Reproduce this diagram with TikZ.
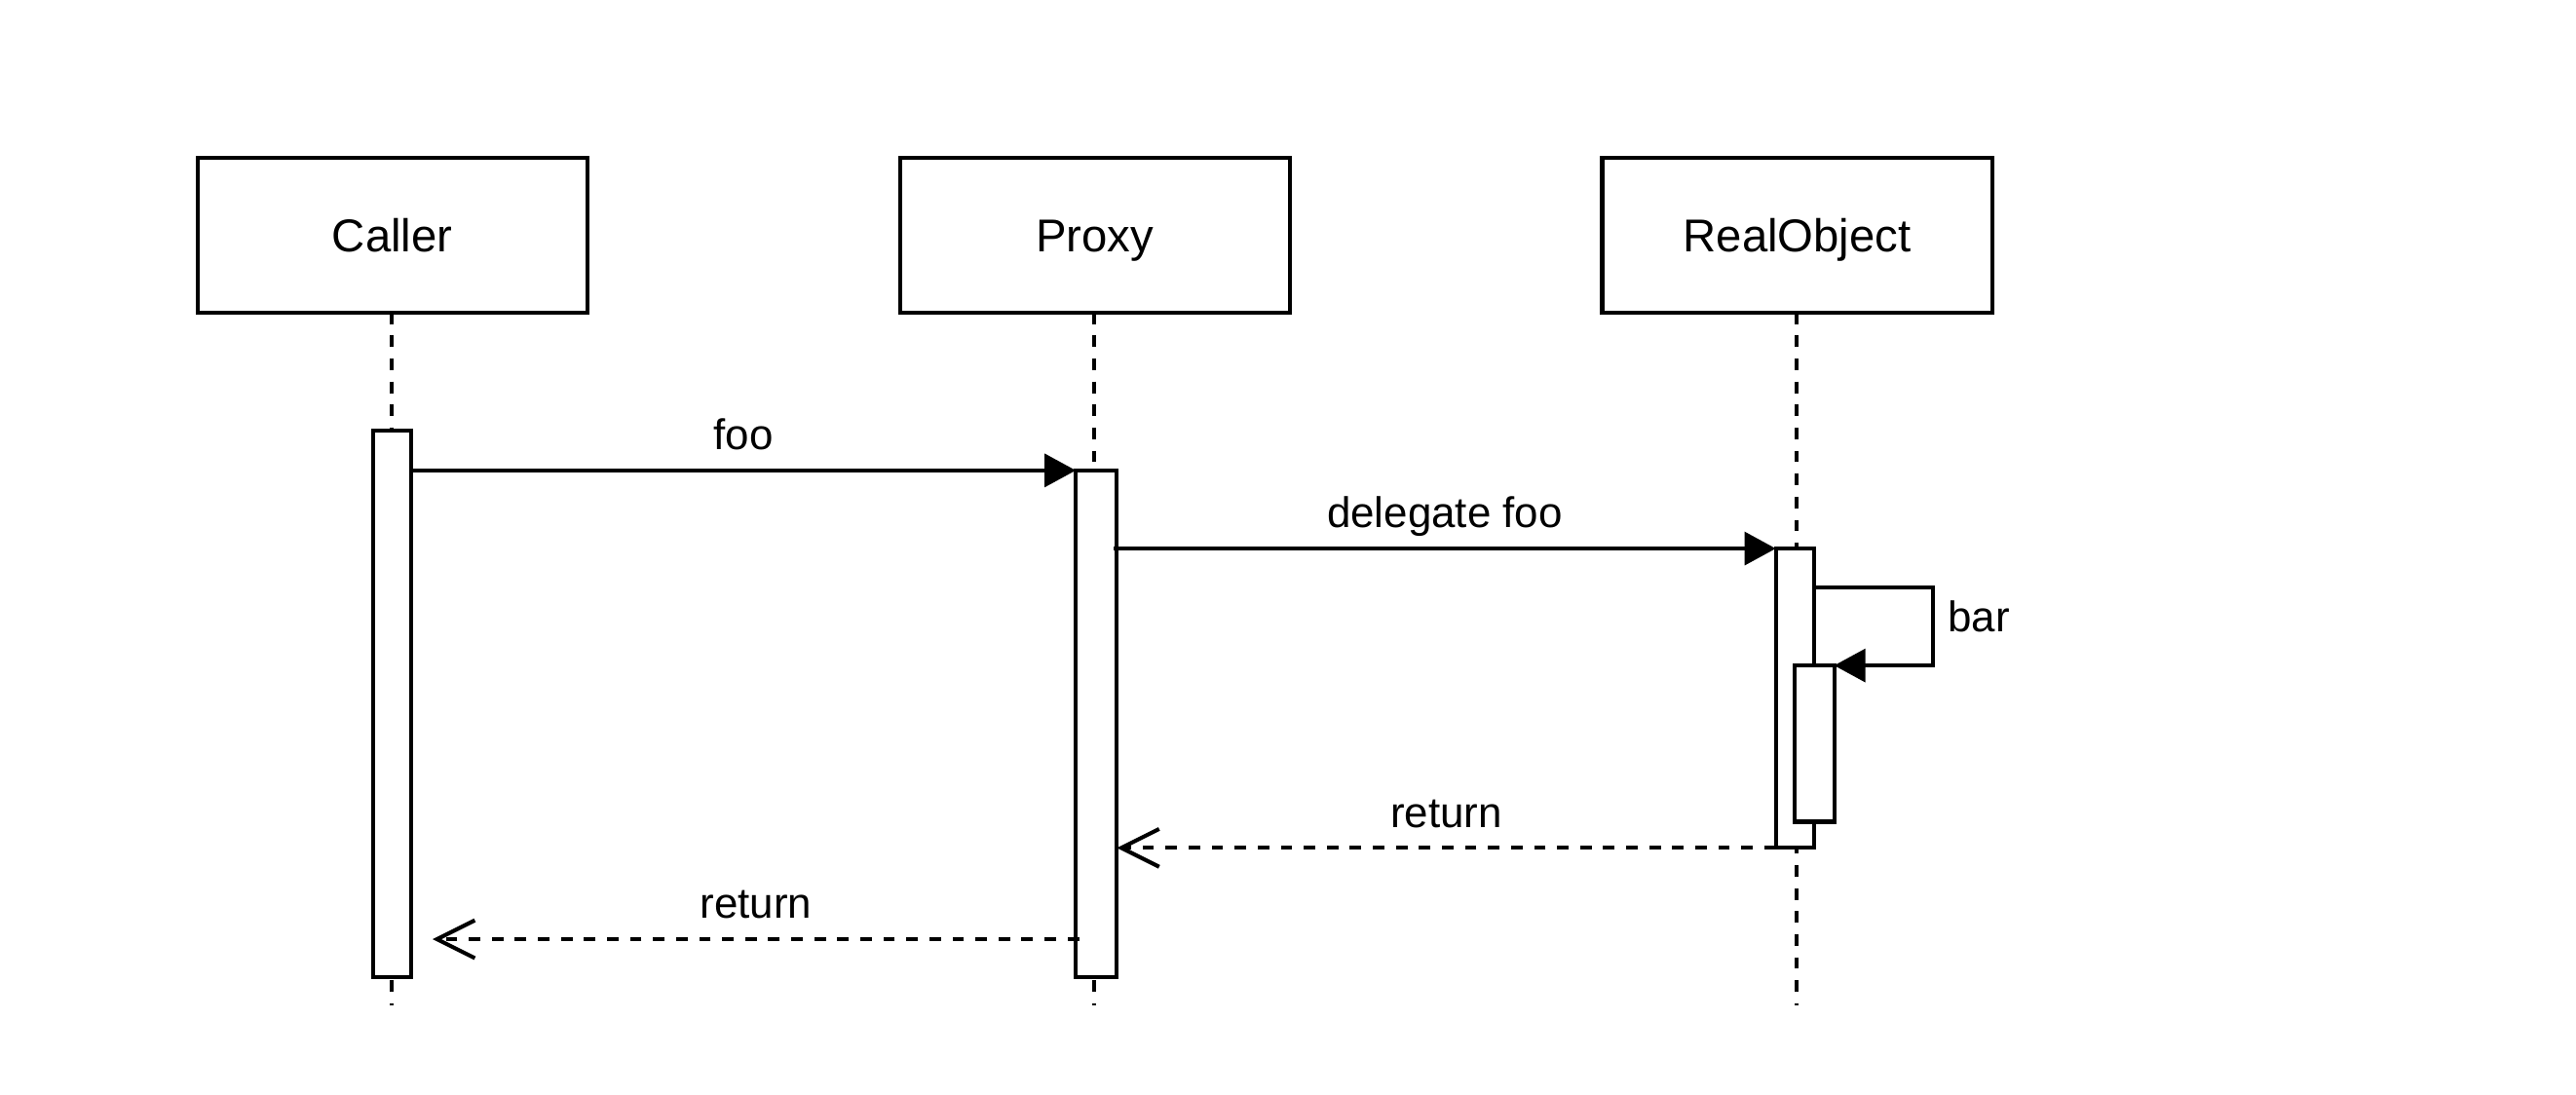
\documentclass[tikz,border=0pt]{standalone}
\usepackage{fontspec}
\setmainfont{Liberation Sans}
\usetikzlibrary{arrows.meta,calc}
\begin{document}
\begin{tikzpicture}[x=1pt,y=-1pt,
  lw/.style={line width=2.4pt},
  objbox/.style={lw,draw,rectangle,minimum width=237pt,minimum height=94pt,inner sep=0pt,outer sep=0pt,text height=20.5pt,text depth=0pt,font=\fontsize{28pt}{32pt}\selectfont},
  lifeline/.style={lw,dash pattern=on 7pt off 7pt},
  actbox/.style={lw,draw,fill=white,rectangle,inner sep=0pt,outer sep=0pt,anchor=north},
  call/.style={lw,-{Triangle[length=19pt,width=20pt]}},
  reply/.style={lw,dash pattern=on 7pt off 7pt,-{Straight Barb[length=23pt,width=23pt,line width=2.4pt]}},
  msglabel/.style={inner sep=0pt,anchor=base,yshift=12.5pt,font=\fontsize{26pt}{30pt}\selectfont}
]
\useasboundingbox (0,0) rectangle (1566,665.7);
% objects
\node[objbox] (caller) at (238.5,143) {Caller};
\node[objbox] (proxy) at (665.5,143) {Proxy};
\node[objbox] (real) at (1092.5,143) {RealObject};
% lifeline ends
\coordinate (cend) at (238,611);
\coordinate (pend) at (665,611);
\coordinate (rend) at (1092,611);
\draw[lifeline] (caller.south -| cend) -- (cend);
\draw[lifeline] (proxy.south -| pend) -- (pend);
\draw[lifeline] (real.south -| rend) -- (rend);
% activations
\node[actbox,minimum width=23pt,minimum height=332pt] (ca) at (238.5,262) {};
\node[actbox,minimum width=25pt,minimum height=308pt] (pa) at (666.5,286) {};
\node[actbox,minimum width=23.5pt,minimum height=182pt] (ra) at (1091.3,333.5) {};
\node[actbox,minimum width=24pt,minimum height=95pt] (na) at (1103,404.6) {};
% messages
\draw[call] (ca.east |- pa.north west) -- (pa.north west)
  node[msglabel,pos=0.5] (l1) {foo};
\draw[call] ($(pa.east |- ra.north west)+(-2,0)$) -- (ra.north west)
  node[msglabel,pos=0.5] (l2) {delegate foo};
\draw[call] ($(ra.north east)+(0,23.5)$) -- ++(72,0) |- (na.north east);
\node[inner sep=0pt,anchor=base west,font=\fontsize{26pt}{30pt}\selectfont] (l3) at (1184,384) {bar};
\draw[reply] (ra.south west) -- (ra.south west -| pa.east)
  node[msglabel,pos=0.5] (l4) {return};
\draw[reply] ($(pa.south west)+(2,-23)$) -- ($(ca.south east)+(13,-23)$)
  node[msglabel,pos=0.5] (l5) {return};
\end{tikzpicture}
\end{document}
